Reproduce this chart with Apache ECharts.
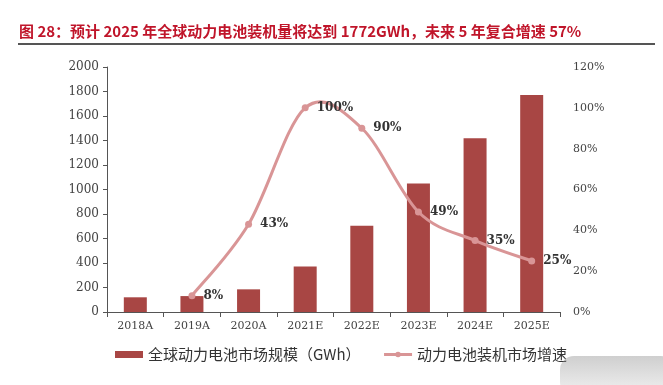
<!DOCTYPE html>
<html>
<head>
<meta charset="utf-8">
<script src="https://cdn.jsdelivr.net/npm/echarts@6/dist/echarts.min.js"></script>
<style>
html,body{margin:0;padding:0;background:#fff;}
#c{width:663px;height:385px;}
</style>
</head>
<body>
<div id="c"></div>
<script>
const categories = ['2018A','2019A','2020A','2021E','2022E','2023E','2024E','2025E'];
const marketSize = [120, 130, 185, 371, 705, 1050, 1418, 1772];
const growthRate = [null, 0.08, 0.43, 1.00, 0.90, 0.49, 0.35, 0.25];
const growthLabels = ['', '8%', '43%', '100%', '90%', '49%', '35%', '25%'];
const rightTicks = ['0%','20%','40%','60%','80%','100%','120%'];
const titleText = '图 28：预计 2025 年全球动力电池装机量将达到 1772GWh，未来 5 年复合增速 57%';
const seriesNames = ['全球动力电池市场规模（GWh）', '动力电池装机市场增速'];

const chart = echarts.init(document.getElementById('c'), null, {renderer: 'canvas'});
const serif = '"DejaVu Serif", "Liberation Serif", serif';
const cjk = '"Noto Sans CJK SC", "Noto Sans", sans-serif';
const lineColor = '#d99596';

// indices of valid growth points
const validIdx = growthRate.map((v, i) => v == null ? -1 : i).filter(i => i >= 0);
// one segment per consecutive pair of valid points
const segData = validIdx.slice(0, -1).map((idx, k) => [k]);

function renderSegment(params, api) {
  const k = api.value(0);
  const n = validIdx.length;
  const pt = j => {
    const jj = Math.max(0, Math.min(n - 1, j));
    const i = validIdx[jj];
    return api.coord([i, growthRate[i]]);
  };
  const p0 = pt(k - 1), p1 = pt(k), p2 = pt(k + 1), p3 = pt(k + 2);
  const t = 1 / 6;
  return {
    type: 'bezierCurve',
    shape: {
      x1: p1[0], y1: p1[1], x2: p2[0], y2: p2[1],
      cpx1: p1[0] + (p2[0] - p0[0]) * t, cpy1: p1[1] + (p2[1] - p0[1]) * t,
      cpx2: p2[0] - (p3[0] - p1[0]) * t, cpy2: p2[1] - (p3[1] - p1[1]) * t
    },
    style: {stroke: lineColor, lineWidth: 3, fill: null, lineCap: 'round'},
    silent: true
  };
}

chart.setOption({
  animation: false,
  backgroundColor: '#fff',
  title: {
    text: titleText,
    left: 14, top: 19,
    textStyle: {fontFamily: cjk, fontSize: 15, fontWeight: 'bold', color: '#c0152a'}
  },
  graphic: [
    {type: 'rect', shape: {x: 18, y: 43, width: 637, height: 2}, style: {fill: '#555'}, silent: true},
    {type: 'rect', shape: {x: 560, y: 356, width: 115, height: 40, r: 14},
     style: {fill: new echarts.graphic.LinearGradient(0, 0, 0, 1, [{offset: 0, color: '#cfcfcf'}, {offset: 1, color: '#f2f2f2'}])}, silent: true, z: -1}
  ],
  legend: {
    left: 115, top: 347, padding: 0,
    itemGap: 22,
    itemWidth: 28, itemHeight: 7,
    textStyle: {fontFamily: cjk, fontSize: 15, color: '#333'},
    data: [
      {name: seriesNames[0], icon: 'rect'},
      {name: seriesNames[1], lineStyle: {color: lineColor, width: 3, opacity: 1}}
    ]
  },
  grid: {left: 107, right: 103, top: 67, bottom: 73},
  xAxis: {
    type: 'category',
    data: categories,
    axisLine: {lineStyle: {color: '#555', width: 1}},
    axisTick: {show: true, alignWithLabel: false, length: 5, lineStyle: {color: '#555'}},
    axisLabel: {fontFamily: serif, fontSize: 11, color: '#444', margin: 9}
  },
  yAxis: [
    {
      type: 'value', min: 0, max: 2000, interval: 200,
      axisLine: {show: true, lineStyle: {color: '#555'}},
      axisTick: {show: true, length: 4, lineStyle: {color: '#555'}},
      splitLine: {show: false},
      axisLabel: {fontFamily: serif, fontSize: 12, color: '#444', margin: 8,
        formatter: function (v) { return String(v); }}
    },
    {
      type: 'value', min: 0, max: 1.2, interval: 0.2,
      axisLine: {show: false}, axisTick: {show: false}, splitLine: {show: false},
      axisLabel: {
        fontFamily: serif, fontSize: 11, color: '#444', margin: 13,
        formatter: function (v) { return rightTicks[Math.round(v / 0.2)]; }
      }
    }
  ],
  series: [
    {
      name: seriesNames[0], type: 'bar', data: marketSize, barWidth: 23,
      itemStyle: {color: '#a84644'}
    },
    {
      name: seriesNames[1] + '_curve', type: 'custom', yAxisIndex: 1,
      data: segData, renderItem: renderSegment, z: 4, silent: true,
      encode: {x: -1, y: -1}
    },
    {
      name: seriesNames[1], type: 'line', yAxisIndex: 1, data: growthRate,
      symbol: 'circle', symbolSize: 7,
      lineStyle: {color: lineColor, width: 3, opacity: 0},
      itemStyle: {color: lineColor},
      label: {
        show: true, position: 'right', distance: 8,
        fontFamily: serif, fontSize: 12, fontWeight: 'bold', color: '#333',
        formatter: function (p) { return growthLabels[p.dataIndex]; }
      },
      z: 5
    }
  ]
});
</script>
</body>
</html>
